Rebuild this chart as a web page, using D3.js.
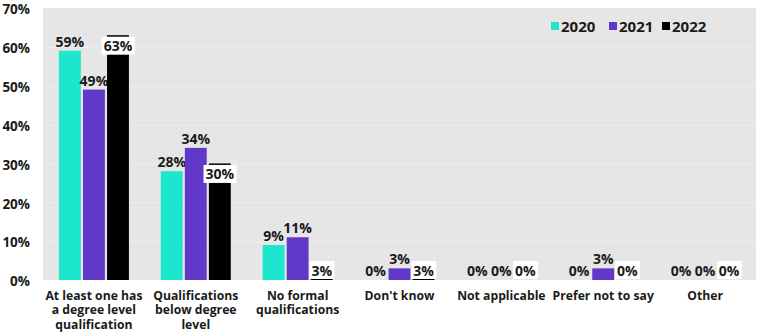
<!DOCTYPE html>
<html>
<head>
<meta charset="utf-8">
<script src="https://cdn.jsdelivr.net/npm/d3@7"></script>
<style>
  body { margin: 0; background: #fff; }
  text { font-family: "Open Sans", sans-serif; font-weight: 700; fill: #1a1a1a; }
</style>
</head>
<body>
<div id="chart"></div>
<script>
const categories = [
  ['At least one has', 'a degree level', 'qualification'],
  ['Qualifications', 'below degree', 'level'],
  ['No formal', 'qualifications'],
  ["Don't know"],
  ['Not applicable'],
  ['Prefer not to say'],
  ['Other']
];
const years = ['2020', '2021', '2022'];
const values2020 = [59, 28, 9, 0, 0, 0, 0];
const values2021 = [49, 34, 11, 3, 0, 3, 0];
const values2022 = [63, 30, 3, 3, 0, 0, 0];
const yTicks = [0, 10, 20, 30, 40, 50, 60, 70];
const colors = ['#1de6cf', '#6238c8', '#000000'];

const series = [values2020, values2021, values2022];
const width = 768, height = 334;
const margin = {top: 8, right: 12, bottom: 54, left: 43};

const svg = d3.select('#chart').append('svg')
  .attr('width', width)
  .attr('height', height);

const x0 = d3.scaleBand()
  .domain(d3.range(categories.length))
  .range([margin.left, width - margin.right])
  .padding(0);

const x1 = d3.scaleBand()
  .domain(years)
  .range([0, 70])
  .paddingInner(0.09);

const y = d3.scaleLinear()
  .domain([0, 70])
  .range([height - margin.bottom, margin.top]);

// plot background
svg.append('rect')
  .attr('x', margin.left)
  .attr('y', margin.top)
  .attr('width', width - margin.left - margin.right)
  .attr('height', y(0) - margin.top)
  .attr('fill', '#e6e6e6');

// gridlines
svg.append('g')
  .selectAll('line')
  .data(yTicks.slice(1, -1))
  .enter().append('line')
  .attr('x1', margin.left)
  .attr('x2', width - margin.right)
  .attr('y1', d => y(d) + 0.5)
  .attr('y2', d => y(d) + 0.5)
  .attr('stroke', '#eeeeee')
  .attr('stroke-width', 1);

// y axis
const yAxis = svg.append('g')
  .attr('transform', `translate(${margin.left - 13},1.5)`)
  .call(d3.axisLeft(y).tickValues(yTicks).tickFormat(d => d + '%').tickSize(0).tickPadding(0));
yAxis.select('.domain').remove();
yAxis.selectAll('text')
  .attr('font-size', 13.5)
  .style('font-family', '"Open Sans", sans-serif')
  .style('font-weight', 700)
  .attr('fill', '#1a1a1a');

// bars
const groups = svg.append('g')
  .selectAll('g')
  .data(categories)
  .enter().append('g')
  .attr('transform', (d, i) => `translate(${x0(i) + (x0.bandwidth() - 70) / 2},0)`);

groups.each(function (cat, ci) {
  const g = d3.select(this);
  years.forEach((yr, si) => {
    const v = series[si][ci];
    const bx = x1(yr);
    const bw = x1.bandwidth();
    if (v > 0) {
      g.append('rect')
        .attr('x', bx)
        .attr('y', y(v))
        .attr('width', bw)
        .attr('height', y(0) - y(v))
        .attr('fill', colors[si]);
    }
    const cx = bx + bw / 2;
    if (si < 2) {
      g.append('text')
        .attr('x', cx)
        .attr('y', y(v) - 4)
        .attr('text-anchor', 'middle')
        .attr('font-size', 14)
        .text(v + '%');
    } else {
      const boxTop = Math.min(y(v) + 1.5, y(0) - 19);
      const t = g.append('text')
        .attr('x', cx)
        .attr('y', boxTop + 14.5)
        .attr('text-anchor', 'middle')
        .attr('font-size', 14)
        .text(v + '%');
      const bb = t.node().getBBox();
      g.insert('rect', 'text:last-of-type')
        .attr('x', bb.x - 2)
        .attr('y', boxTop)
        .attr('width', bb.width + 4)
        .attr('height', 18)
        .attr('fill', '#ffffff');
    }
  });
});

// x labels
const xl = svg.append('g')
  .selectAll('text')
  .data(categories)
  .enter().append('text')
  .attr('text-anchor', 'middle')
  .attr('font-size', 12.2)
  .attr('transform', (d, i) => `translate(${x0(i) + x0.bandwidth() / 2},${y(0) + 20})`);
xl.selectAll('tspan')
  .data(d => d)
  .enter().append('tspan')
  .attr('x', 0)
  .attr('dy', (d, i) => i === 0 ? 0 : 14.3)
  .text(d => d);

// legend
const legendX = [551, 609, 662];
const legend = svg.append('g')
  .selectAll('g')
  .data(years)
  .enter().append('g')
  .attr('transform', (d, i) => `translate(${legendX[i]},26)`);
legend.append('rect')
  .attr('x', 0)
  .attr('y', -4)
  .attr('width', 8)
  .attr('height', 8)
  .attr('fill', (d, i) => colors[i]);
legend.append('text')
  .attr('x', 10)
  .attr('y', 5.5)
  .attr('font-size', 15)
  .text(d => d);
</script>
</body>
</html>
